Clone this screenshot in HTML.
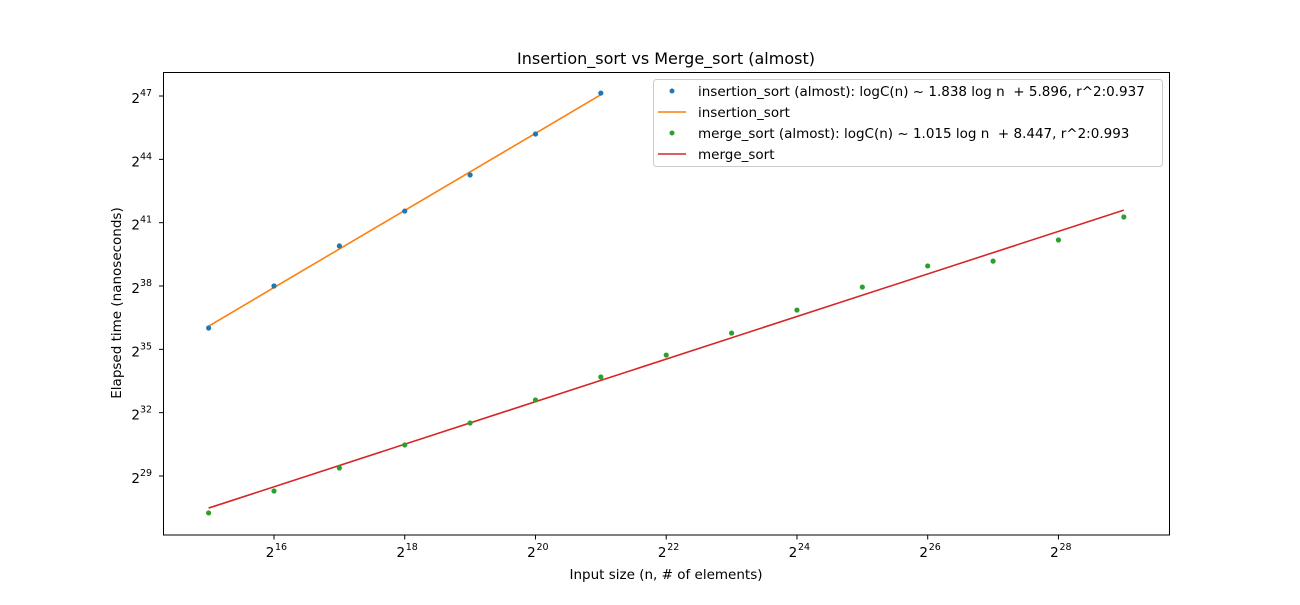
<!DOCTYPE html>
<html><head><meta charset="utf-8"><style>
body{margin:0;background:#fff;}
svg text{font-family:"DejaVu Sans","Liberation Sans",sans-serif;fill:#000;white-space:pre;}
</style></head><body>
<svg id="chart" width="1300" height="600" xmlns="http://www.w3.org/2000/svg">
<rect width="1300" height="600" fill="#fff"/>
<text x="666" y="64" font-size="16" text-anchor="middle">Insertion_sort vs Merge_sort (almost)</text>
<text x="666" y="579" font-size="13.5" text-anchor="middle">Input size (n, # of elements)</text>
<text transform="translate(121,303) rotate(-90)" font-size="13.5" text-anchor="middle">Elapsed time (nanoseconds)</text>
<g id="marks"></g>
<rect x="163.5" y="72.5" width="1006" height="462.5" fill="none" stroke="#000" stroke-width="1"/>
<g id="ticks"></g>
<g>
<rect x="653.5" y="79.5" width="509" height="87" fill="#fff" fill-opacity="0.8" stroke="#ccc" rx="3"/>
<g><circle cx="672" cy="91" r="2.5" fill="#1f77b4"/><text x="698" y="96" font-size="13.5" xml:space="preserve">insertion_sort (almost): logC(n) ~ 1.838 log n  + 5.896, r^2:0.937</text></g>
<g><line x1="658" x2="686" y1="112" y2="112" stroke="#ff7f0e" stroke-width="1.6"/><text x="698" y="117" font-size="13.5">insertion_sort</text></g>
<g><circle cx="672" cy="133" r="2.5" fill="#2ca02c"/><text x="698" y="138" font-size="13.5" xml:space="preserve">merge_sort (almost): logC(n) ~ 1.015 log n  + 8.447, r^2:0.993</text></g>
<g><line x1="658" x2="686" y1="154" y2="154" stroke="#d62728" stroke-width="1.6"/><text x="698" y="159" font-size="13.5">merge_sort</text></g>
</g>
</svg>
<script>
const insN = [15,16,17,18,19,20,21];
const insT = [36.01,38.0,39.9,41.55,43.26,45.2,47.14];
const merN = [15,16,17,18,19,20,21,22,23,24,25,26,27,28,29];
const merT = [27.25,28.29,29.38,30.47,31.51,32.6,33.69,34.73,35.77,36.86,37.95,38.95,39.18,40.18,41.27];
const xTicks = [16,18,20,22,24,26,28];
const yTicks = [29,32,35,38,41,44,47];

const NS='http://www.w3.org/2000/svg';
function xs(e){return 274+(e-16)*65.37;}
function ys(e){return 476-(e-29)*21.11;}
const marks=document.getElementById('marks');
const ticks=document.getElementById('ticks');
function mk(tag,attrs,parent){const el=document.createElementNS(NS,tag);for(const k in attrs)el.setAttribute(k,attrs[k]);parent.appendChild(el);return el;}
function fit(x,y){const n=x.length;let sx=0,sy=0,sxx=0,sxy=0;for(let i=0;i<n;i++){sx+=x[i];sy+=y[i];sxx+=x[i]*x[i];sxy+=x[i]*y[i];}const b=(n*sxy-sx*sy)/(n*sxx-sx*sx);return [b,(sy-b*sx)/n];}
function series(N,T,lc,pc,name){
  const [b,a]=fit(N,T);
  const x0=N[0],x1=N[N.length-1];
  const ln=mk('line',{x1:xs(x0),y1:ys(a+b*x0),x2:xs(x1),y2:ys(a+b*x1),stroke:lc,'stroke-width':1.6},marks);
  
  
  N.forEach((n,i)=>{
    const c=mk('circle',{cx:xs(n),cy:ys(T[i]),r:2.6,fill:pc},marks);
    
    
  });
}
series(insN,insT,'#ff7f0e','#1f77b4','insertion-sort');
series(merN,merT,'#d62728','#2ca02c','merge-sort');
xTicks.forEach(e=>{
  const g=mk('g',{},ticks);
  
  
  mk('line',{x1:xs(e),x2:xs(e),y1:535,y2:539.5,stroke:'#000'},g);
  const t=mk('text',{x:xs(e)-4,y:557,'font-size':13.5,'text-anchor':'middle'},g);
  t.textContent='2';
  const s=mk('text',{x:xs(e)+1,y:550,'font-size':9.5},g);
  s.textContent=String(e);
});
yTicks.forEach(e=>{
  const g=mk('g',{},ticks);
  
  
  mk('line',{x1:159,x2:163.5,y1:ys(e),y2:ys(e),stroke:'#000'},g);
  const t=mk('text',{x:140,y:ys(e)+7,'font-size':13.5,'text-anchor':'end'},g);
  t.textContent='2';
  const s=mk('text',{x:140,y:ys(e),'font-size':9.5},g);
  s.textContent=String(e);
});
</script>
</body></html>
